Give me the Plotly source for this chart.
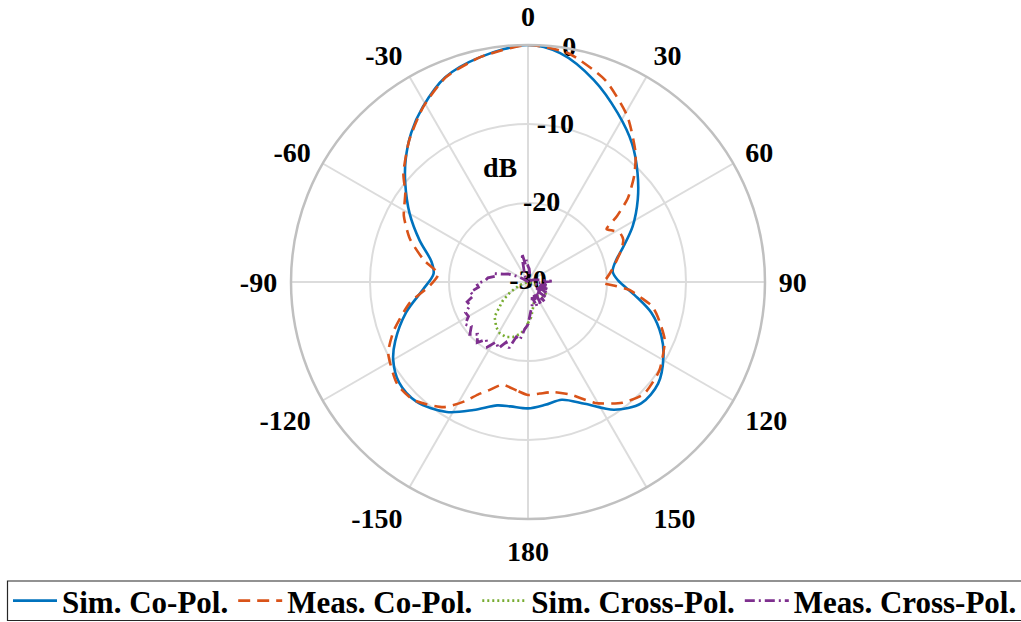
import plotly.graph_objects as go

# ---------------- data (angles in degrees, clockwise from top; values in dB) ----------------
sim_co_theta = [-180, -172, -166, -157, -148, -137, -128, -120, -114, -104, -94, -85, -78, -69,
                -60, -51, -45, -38, -31, -22, -12, 0, 8, 18, 28, 37, 45, 53, 62, 70, 76, 83, 89,
                97, 104, 112, 119, 128, 137, 146, 155, 164, 172, 180]
sim_co_db = [-14.0, -14.1, -13.9, -12.4, -10.6, -9.3, -9.3, -10.3, -11.6, -14.1, -16.7, -18.0, -17.5,
             -15.3, -12.7, -10.0, -8.1, -6.0, -4.15, -2.05, -0.9, 0.0, -0.75, -3.1, -5.8, -8.1, -10.4,
             -12.6, -15.0, -17.2, -18.5, -19.2, -18.6, -16.4, -13.9, -11.8, -10.4, -9.1, -9.0, -10.5,
             -13.0, -14.5, -14.3, -14.0]

meas_co_theta = [-180, -174, -166, -160, -156, -152, -146, -136, -128, -117, -110, -100, -92, -85,
                 -78, -70, -62, -54, -49, -40, -31, -22, -12, 0, 10, 21, 31, 40, 45, 50, 53.5, 56,
                 59, 62, 66, 71, 76, 82, 87, 90.5, 92.5, 94.5, 98, 101, 105, 113, 124, 134, 142,
                 151, 159, 167, 174, 180]
meas_co_db = [-15.7, -16.2, -16.6, -15.4, -14.4, -12.9, -10.9, -9.2, -9.0, -10.15, -11.9, -14.8,
              -17.6, -18.6, -16.5, -14.1, -12.2, -10.8, -9.1, -6.6, -4.2, -2.1, -0.9, 0.0, -0.6,
              -2.65, -5.55, -8.8, -11.0, -13.5, -16.0, -18.0, -17.4, -16.8, -16.8, -17.5, -18.4,
              -19.3, -20.0, -20.5, -19.0, -17.1, -15.5, -14.0, -13.0, -11.2, -9.95, -9.6, -10.6,
              -12.5, -14.7, -15.7, -15.8, -15.7]

sim_x_theta = [-180, -176, -172, -165, -158, -151, -145, -136, -126, -120, -110, -100, -90, -60,
               -30, 0, 30, 60, 90, 100, 110, 120, 130, 140, 150, 160, 165, 170, 175, 180]
sim_x_db = [-24.8, -24.0, -23.4, -22.8, -22.5, -22.6, -23.0, -23.9, -26.1, -27.4, -28.9, -30.0,
            -30.0, -30.0, -30.0, -30.0, -30.0, -30.0, -30.0, -29.5, -28.2, -27.4, -27.2, -27.6,
            -28.0, -27.8, -27.2, -26.5, -25.5, -24.8]

meas_x_theta = [-180, -176, -172, -168, -164, -160, -156, -152, -148, -144, -140, -136, -132, -128,
                -124, -120, -116, -112, -108, -104, -100, -96, -92, -88, -84, -80, -76, -72, -68,
                -64, -60, -55, -50, -40, -30, -25, -20, -15, -12, -8, -4, 0, 5, 10, 20, 30, 45,
                60, 70, 80, 88, 95, 100, 105, 110, 115, 120, 125, 130, 135, 140, 145, 150, 155,
                160, 165, 170, 175, 180]
meas_x_db = [-24.6, -24.0, -22.6, -22.9, -21.3, -21.9, -20.8, -21.4, -20.3, -21.0, -20.0, -20.8,
             -20.1, -20.9, -20.4, -21.3, -21.2, -22.1, -21.9, -22.9, -22.6, -23.7, -23.5, -24.6,
             -24.9, -25.8, -25.6, -26.8, -27.3, -28.2, -28.8, -29.5, -30.0, -30.0, -29.5, -29.0,
             -28.6, -27.5, -26.3, -27.8, -27.2, -28.0, -28.3, -28.8, -29.6, -30.0, -30.0, -29.6,
             -29.2, -28.5, -27.0, -28.6, -27.6, -29.0, -27.4, -28.8, -27.1, -28.7, -26.9, -28.5,
             -26.8, -28.4, -26.6, -28.2, -26.7, -28.0, -27.0, -26.2, -24.6]

angle_ticks = [0, 30, 60, 90, 120, 150, 180, 210, 240, 270, 300, 330]
angle_labels = ["0", "30", "60", "90", "120", "150", "180", "-150", "-120", "-90", "-60", "-30"]
r_ticks = [0, -10, -20, -30]
r_labels = ["0", "-10", "-20", "-30"]

# ---------------- figure ----------------
W, H = 1021, 622
cx, cy, R = 528, 282, 237
FONT = "Liberation Serif"

fig = go.Figure()

# radial tick labels (placed along the r-axis at 10 deg)
fig.add_trace(go.Scatterpolar(
    r=r_ticks, theta=[10] * len(r_ticks), mode="text", text=r_labels,
    textfont=dict(family=FONT, size=28, color="#000000", weight="bold"),
    showlegend=False, hoverinfo="skip"))

fig.add_trace(go.Scatterpolar(
    r=sim_co_db, theta=sim_co_theta, mode="lines", name="Sim. Co-Pol.",
    line=dict(color="#0072BD", width=2.6, shape="spline", smoothing=0.9)))
fig.add_trace(go.Scatterpolar(
    r=meas_co_db, theta=meas_co_theta, mode="lines", name="Meas. Co-Pol.",
    line=dict(color="#D95319", width=2.6, dash="12px,7px", shape="spline", smoothing=0.6)))
fig.add_trace(go.Scatterpolar(
    r=sim_x_db, theta=sim_x_theta, mode="lines", name="Sim. Cross-Pol.",
    line=dict(color="#77AC30", width=2.6, dash="2px,3px")))
fig.add_trace(go.Scatterpolar(
    r=meas_x_db, theta=meas_x_theta, mode="lines", name="Meas. Cross-Pol.",
    line=dict(color="#7E2F8E", width=2.8, dash="10px,4px,2px,4px")))

fig.update_layout(
    width=W, height=H,
    margin=dict(l=0, r=0, t=0, b=0, autoexpand=False),
    paper_bgcolor="white",
    font=dict(family=FONT, color="#000000"),
    polar=dict(
        domain=dict(x=[(cx - R) / W, (cx + R) / W], y=[(H - cy - R) / H, (H - cy + R) / H]),
        bgcolor="white",
        radialaxis=dict(range=[-30, 0], tickvals=r_ticks, showticklabels=False, ticks="",
                        showline=False, gridcolor="#dcdcdc", gridwidth=2, angle=80),
        angularaxis=dict(rotation=90, direction="clockwise", tickvals=angle_ticks,
                         ticktext=angle_labels, ticks="outside", ticklen=7,
                         tickcolor="rgba(0,0,0,0)", showline=True, linecolor="#c0c0c0",
                         linewidth=2.5, gridcolor="#dcdcdc", gridwidth=2,
                         tickfont=dict(family=FONT, size=28, color="#000000", weight="bold")),
    ),
    legend=dict(orientation="h", x=8 / W, y=(H - 601) / H, xanchor="left", yanchor="middle",
                bgcolor="rgba(0,0,0,0)", borderwidth=0, itemwidth=44,
                font=dict(family=FONT, size=31, color="#000000", weight="bold")),
    shapes=[dict(type="rect", xref="paper", yref="paper", x0=7.5 / W, x1=1023 / W,
                 y0=(H - 620.5) / H, y1=(H - 581) / H, line=dict(color="#262626", width=1.2),
                 fillcolor="rgba(0,0,0,0)", layer="below")],
    annotations=[dict(text="dB", x=500 / W, y=(H - 168) / H, xref="paper", yref="paper",
                      showarrow=False, xanchor="center", yanchor="middle",
                      font=dict(family=FONT, size=28, color="#000000", weight="bold"))],
)

fig.write_html("out.html")
